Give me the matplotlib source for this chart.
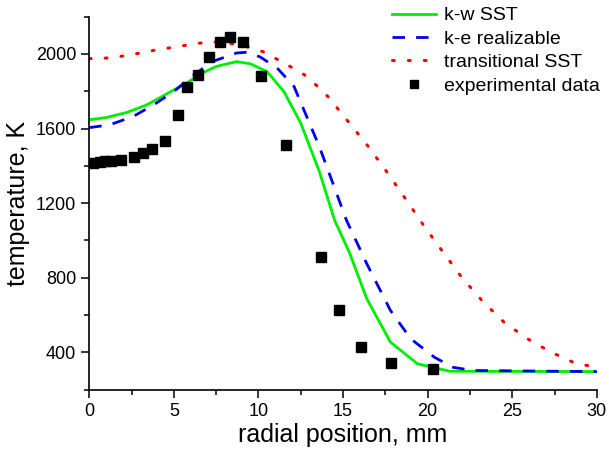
import matplotlib
matplotlib.use("Agg")
import matplotlib.pyplot as plt
from matplotlib.ticker import MultipleLocator

plt.rcParams["font.family"] = ["Liberation Sans", "DejaVu Sans"]

# k-w SST (solid green)
kw_x = [0.0, 1.0, 2.2, 3.4, 4.6, 5.8, 6.6, 7.5, 8.7, 9.5, 10.5, 11.5, 12.5, 13.6,
        14.5, 15.4, 16.4, 17.8, 19.4, 21.3, 30.0]
kw_t = [1647, 1659, 1686, 1727, 1787, 1847, 1894, 1933, 1959, 1948, 1906, 1799, 1629, 1369,
        1109, 930, 688, 455, 339, 299, 297]

# k-e realizable (dashed blue)
ke_x = [0.0, 1.2, 2.6, 3.8, 5.0, 6.2, 7.3, 8.7, 9.3, 10.1, 11.1, 12.1, 13.6,
        15.2, 16.4, 17.8, 19.0, 20.4, 21.5, 22.7, 30.0]
ke_t = [1605, 1620, 1665, 1727, 1799, 1889, 1960, 2005, 2009, 1984, 1925, 1826, 1503,
        1109, 876, 625, 473, 374, 320, 303, 297]

# transitional SST (dotted red)
tr_x = [0.0, 1.0, 2.2, 3.8, 5.6, 6.6, 7.5, 8.5, 9.5, 10.3, 11.7, 12.7, 13.5, 14.1, 15.3,
        16.5, 17.6, 18.7, 19.8, 20.9, 22.0, 23.2, 24.5, 25.9, 27.3, 28.6, 29.6]
tr_t = [1975, 1978, 1991, 2019, 2045, 2059, 2065, 2054, 2035, 2011, 1942, 1889, 1826, 1772, 1638,
        1503, 1366, 1222, 1076, 939, 804, 679, 563, 473, 401, 347, 326]

# experimental data (black squares)
exp_x = [0.22, 0.65, 0.9, 1.3, 1.89, 2.62, 3.17, 3.7, 4.45, 5.22, 5.75, 6.4, 7.07, 7.74,
         8.29, 9.08, 10.14, 11.64, 13.69, 14.77, 16.08, 17.82, 20.32]
exp_t = [1417, 1421, 1425, 1428, 1432, 1450, 1471, 1489, 1532, 1672, 1824, 1889, 1985, 2062,
         2091, 2065, 1883, 1514, 912, 625, 428, 342, 310]

fig = plt.figure(figsize=(6.09, 4.5), dpi=100)
ax = fig.add_axes([0.1466, 0.134, 0.8334, 0.829])

ax.plot(kw_x, kw_t, color="#00ee00", lw=2.0, label="k-w SST")
ax.plot(ke_x, ke_t, color="#0000ee", lw=2.0, linestyle=(0, (4.5, 4.0)), label="k-e realizable")
ax.plot(tr_x, tr_t, color="#ff0000", lw=2.2, linestyle=(0, (0.6, 4.6)),
        dash_capstyle="round", label="transitional SST")
ax.plot(exp_x, exp_t, "s", color="black", markersize=7, linestyle="none",
        label="experimental data")

ax.set_xlim(0, 30)
ax.set_ylim(200, 2200)
ax.xaxis.set_major_locator(MultipleLocator(5))
ax.xaxis.set_minor_locator(MultipleLocator(2.5))
ax.yaxis.set_major_locator(MultipleLocator(400))
ax.yaxis.set_minor_locator(MultipleLocator(200))
ax.set_yticks([400, 800, 1200, 1600, 2000])
ax.spines["top"].set_visible(False)
ax.spines["right"].set_visible(False)
for s in ("left", "bottom"):
    ax.spines[s].set_linewidth(1.2)
ax.tick_params(which="major", direction="out", length=6, width=1.1, labelsize=13)
ax.tick_params(which="minor", direction="out", length=3.5, width=1.1)

ax.set_xlabel("radial position, mm", fontsize=18, labelpad=2)
ax.set_ylabel("temperature, K", fontsize=18, labelpad=4)

leg = fig.legend(loc="upper left", bbox_to_anchor=(0.643, 0.985),
                 bbox_transform=fig.transFigure, frameon=False, fontsize=14,
                 handlelength=2.3, handletextpad=0.4, labelspacing=0.3,
                 borderpad=0, borderaxespad=0, markerscale=0.75)

fig.savefig("out.png", dpi=100, facecolor="white")
